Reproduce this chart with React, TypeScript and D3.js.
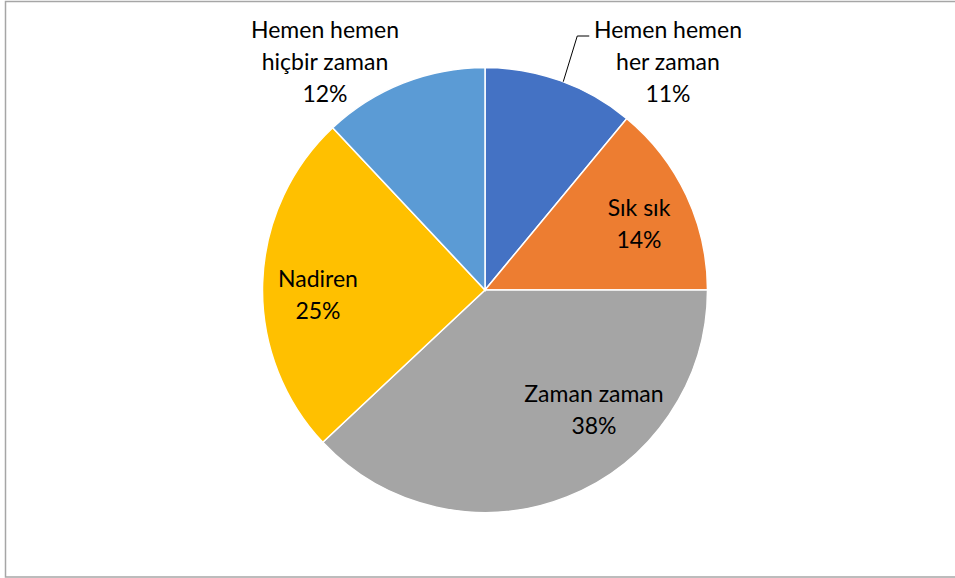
import React from "react";
import * as d3 from "d3";

const categories = ["Hemen hemen her zaman", "Sık sık", "Zaman zaman", "Nadiren", "Hemen hemen hiçbir zaman"];
const values = [11, 14, 38, 25, 12];
const labelLines = [["Hemen hemen", "her zaman"], ["Sık sık"], ["Zaman zaman"], ["Nadiren"], ["Hemen hemen", "hiçbir zaman"]];
const colors = ["#4472C4", "#ED7D31", "#A5A5A5", "#FFC000", "#5B9BD5"];

const W = 955, H = 578;
const cx = 485, cy = 290, R = 222.5;
// label centre positions relative to pie center (layout only)
const labelOffsets: [number, number][] = [
  [183, -228],
  [154, -66],
  [109, 120],
  [-167, 5],
  [-160, -228],
];

export default function App() {
  const pie = d3.pie<number>().sort(null).value((d) => d);
  const arcs = pie(values);
  const arc = d3.arc<d3.PieArcDatum<number>>().innerRadius(0).outerRadius(R);
  const total = d3.sum(values);
  const lh = 32;
  const font = "Lato, 'Open Sans', sans-serif";

  // leader line for first slice
  const a0 = arcs[0];
  const edgeAngle = a0.startAngle + (a0.endAngle - a0.startAngle) * 0.52;
  const ex = cx + R * Math.sin(edgeAngle);
  const ey = cy - R * Math.cos(edgeAngle);

  return (
    <svg width={W} height={H} style={{ position: "absolute", left: 0, top: 0, background: "#fff" }}>
      <rect x={5.5} y={1.5} width={955} height={575.5} fill="#fff" stroke="#A6A6A6" strokeWidth={1.5} />
      <g transform={`translate(${cx},${cy})`}>
        {arcs.map((d, i) => (
          <path key={i} d={arc(d) || ""} fill={colors[i]} stroke="#fff" strokeWidth={1.5} />
        ))}
      </g>
      <polyline
        points={`${ex},${ey} ${ex + 14},${36} ${ex + 26},${36}`}
        fill="none"
        stroke="#000"
        strokeWidth={1}
      />
      {arcs.map((d, i) => {
        const lines = [...labelLines[i], `${Math.round((values[i] / total) * 100)}%`];
        const [ox, oy] = labelOffsets[i];
        const x = cx + ox;
        const y0 = cy + oy - ((lines.length - 1) * lh) / 2;
        return (
          <text key={i} fontFamily={font} fontSize={23} fill="#000" textAnchor="middle">
            {lines.map((t, j) => (
              <tspan key={j} x={x} y={y0 + j * lh} dy="0.35em">
                {t}
              </tspan>
            ))}
          </text>
        );
      })}
    </svg>
  );
}
